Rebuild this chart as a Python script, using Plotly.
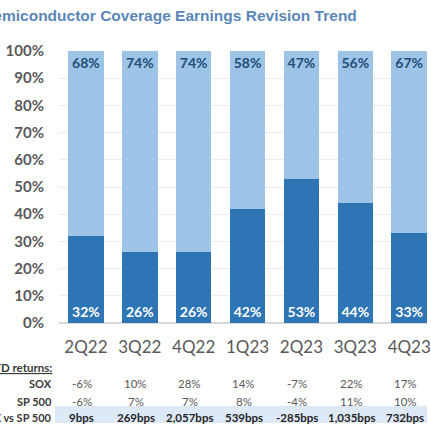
"""Semiconductor coverage earnings revision trend - stacked 100% bars with return table."""

import plotly.graph_objects as go

quarters = ["2Q22", "3Q22", "4Q22", "1Q23", "2Q23", "3Q23", "4Q23"]
up_share = [0.32, 0.26, 0.26, 0.42, 0.53, 0.44, 0.33]
down_share = [0.68, 0.74, 0.74, 0.58, 0.47, 0.56, 0.67]

sox_ret = ["-6%", "10%", "28%", "14%", "-7%", "22%", "17%"]
spx_ret = ["-6%", "7%", "7%", "8%", "-4%", "11%", "10%"]
spread = ["9bps", "269bps", "2,057bps", "539bps", "-285bps", "1,035bps", "732bps"]
row_labels = ["SOX", "SP 500", "SOX vs SP 500"]

DARK = "#2e75b6"
LIGHT = "#9dc3e6"
GRAY = "#595959"
FONT = "Lato"

fig = go.Figure()

fig.add_trace(go.Bar(
    x=quarters, y=up_share, marker_color=DARK, marker_line_width=0,
    text=[f"{v:.0%}" for v in up_share], textposition="inside",
    insidetextanchor="start", textangle=0,
    textfont=dict(family=FONT, size=14, color="white", weight="bold"),
    showlegend=False)
)
fig.add_trace(go.Bar(
    x=quarters, y=down_share, marker_color=LIGHT, marker_line_width=0,
    text=[f"{v:.0%}" for v in down_share], textposition="inside",
    insidetextanchor="end", textangle=0,
    textfont=dict(family=FONT, size=14, color="#1f4e79", weight="bold"),
    showlegend=False)
)

# return table under the chart
rows_y = [-0.224, -0.287, -0.346]
rows = [sox_ret, spx_ret, spread]

fig.add_shape(type="rect", xref="paper", yref="paper",
              x0=-0.011, x1=1.0, y0=-0.368, y1=-0.305,
              fillcolor="#dde9f6", line_width=0, layer="below")

for ry, vals, lab in zip(rows_y, rows, row_labels):
    last = lab == "SOX vs SP 500"
    fig.add_annotation(x=-0.014, y=ry, xref="paper", yref="paper",
                       text=lab, showarrow=False, xanchor="right", yanchor="middle",
                       font=dict(family=FONT, size=11, color="#3a3a3a", weight="bold"))
    for q, v in zip(quarters, vals):
        fig.add_annotation(x=q, y=ry, xref="x", yref="paper", text=v,
                           showarrow=False, xshift=-4, yanchor="middle",
                           font=dict(family=FONT, size=11.5,
                                     color="#262626" if last else GRAY,
                                     weight="bold" if last else "normal"))

fig.add_annotation(x=-0.014, y=-0.165, xref="paper", yref="paper",
                   text="<u>QTD returns:</u>", showarrow=False,
                   xanchor="right", yanchor="middle",
                   font=dict(family=FONT, size=11.5, color="#3a3a3a", weight="bold"))

fig.add_annotation(x=0.815, y=1.129, xref="paper", yref="paper",
                   text="Semiconductor Coverage Earnings Revision Trend",
                   showarrow=False, xanchor="right", yanchor="middle",
                   font=dict(family="Liberation Sans", size=15.5, color="#5b87b8", weight="bold"))

fig.update_xaxes(range=[-0.5, 6.33], showgrid=False, showline=False,
                 ticklabelstandoff=12,
                 tickfont=dict(family=FONT, size=17, color=GRAY))
fig.update_yaxes(range=[0, 1], tickformat=".0%", dtick=0.1,
                 gridcolor="#ececec", gridwidth=1, zeroline=True,
                 zerolinecolor="#d9d9d9", ticklabelstandoff=14,
                 tickfont=dict(family=FONT, size=15, color=GRAY, weight="bold"))
fig.update_layout(
    width=431, height=430, barmode="stack", bargap=0.34,
    margin=dict(l=59, r=0, t=51, b=107),
    plot_bgcolor="white", paper_bgcolor="white",
)

# drop the browser's default body margin so the figure fills the window
fig.write_html("out.html", config={"displayModeBar": False},
               post_script="document.body.style.margin = '0';")
